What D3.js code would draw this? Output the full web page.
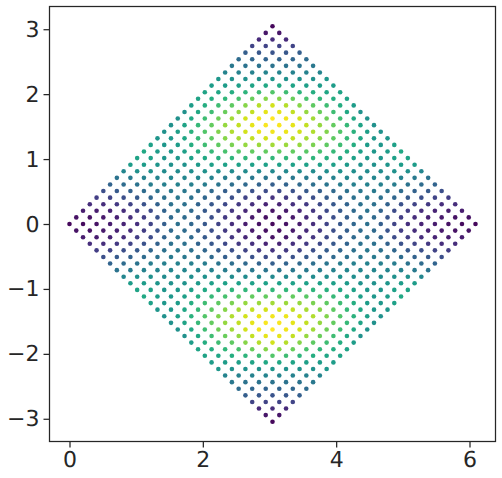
<!DOCTYPE html>
<html>
<head>
<meta charset="utf-8">
<script src="https://cdn.jsdelivr.net/npm/d3@7"></script>
<style>
html,body{margin:0;padding:0;background:#fff;}
svg{display:block;}
text{text-rendering:geometricPrecision;}
</style>
</head>
<body>
<svg id="chart" width="502" height="478"></svg>
<script>
// Colour values. One row per |y| level (0 .. 30 grid steps),
// listed from the left edge of the diamond to its vertical centre line.
const rowValues = [
  [.02,.03,.05,.08,.10,.14,.20,.30,.37,.33,.27,.20,.13,.08,.05,.02],
  [.05,.05,.07,.09,.13,.18,.26,.34,.35,.30,.24,.17,.12,.07,.04],
  [.08,.08,.10,.13,.18,.23,.32,.38,.34,.28,.22,.16,.11,.07,.05],
  [.13,.13,.17,.20,.25,.31,.37,.37,.32,.27,.22,.17,.14,.10],
  [.18,.20,.24,.28,.33,.37,.40,.37,.33,.29,.24,.20,.17,.15],
  [.24,.28,.31,.35,.38,.41,.40,.37,.34,.30,.28,.25,.23],
  [.32,.35,.38,.42,.43,.44,.43,.42,.39,.36,.34,.32,.30],
  [.38,.41,.44,.45,.46,.46,.46,.44,.42,.41,.40,.39],
  [.46,.50,.50,.48,.48,.49,.50,.49,.48,.48,.47,.47],
  [.55,.55,.52,.50,.51,.54,.56,.57,.57,.57,.57],
  [.58,.57,.52,.53,.57,.60,.63,.65,.66,.66,.66],
  [.60,.55,.53,.56,.62,.67,.71,.74,.76,.76],
  [.57,.53,.55,.62,.69,.75,.80,.84,.85,.86],
  [.52,.53,.59,.67,.75,.82,.87,.91,.93],
  [.50,.56,.64,.73,.81,.88,.93,.97,.98],
  [.50,.58,.67,.76,.84,.91,.96,.99],
  [.50,.60,.69,.78,.86,.93,.98,1.0],
  [.50,.60,.69,.77,.84,.91,.96],
  [.55,.62,.69,.75,.82,.89,.93],
  [.58,.62,.66,.71,.77,.82],
  [.58,.59,.62,.65,.69,.73],
  [.55,.55,.56,.58,.60],
  [.53,.50,.50,.50,.52],
  [.45,.44,.44,.45],
  [.40,.38,.38,.38],
  [.35,.33,.32],
  [.30,.27,.26],
  [.20,.20],
  [.12,.13],
  [.06],
  [.02]
];
const gridStep = 0.1015;
const xTicks = [0, 2, 4, 6];
const yTicks = [-3, -2, -1, 0, 1, 2, 3];
const xDomain = [-0.3, 6.39];
const yDomain = [-3.35, 3.35];

const svg = d3.select("#chart");
const plot = {left: 49.5, right: 495.5, top: 6.5, bottom: 441.5};
const x = d3.scaleLinear().domain(xDomain).range([plot.left, plot.right]);
const y = d3.scaleLinear().domain(yDomain).range([plot.bottom, plot.top]);
const color = d3.scaleSequential(d3.interpolateViridis).domain([0, 1]);

const points = [];
rowValues.forEach((half, k) => {
  const even = k % 2 === 0;
  const mirrored = half.slice(0, even ? half.length - 1 : half.length).reverse();
  const full = half.concat(mirrored);
  full.forEach((v, n) => {
    const m = k + 2 * n;
    points.push({x: m * gridStep, y: k * gridStep, v});
    if (k > 0) points.push({x: m * gridStep, y: -k * gridStep, v});
  });
});

svg.append("g").selectAll("circle").data(points).join("circle")
  .attr("cx", d => x(d.x))
  .attr("cy", d => y(d.y))
  .attr("r", 2.3)
  .attr("fill", d => color(d.v));

const fmt = d => String(d).replace("-", "\u2212");
const ink = "#262626";
const xAxis = d3.axisBottom(x).tickValues(xTicks).tickSize(6).tickPadding(4).tickFormat(fmt);
const yAxis = d3.axisLeft(y).tickValues(yTicks).tickSize(6).tickPadding(4).tickFormat(fmt);

const gx = svg.append("g").attr("transform", `translate(0,${plot.bottom})`).call(xAxis);
const gy = svg.append("g").attr("transform", `translate(${plot.left},0)`).call(yAxis);
[gx, gy].forEach(g => {
  g.select(".domain").remove();
  g.selectAll(".tick line").attr("stroke", ink).attr("stroke-width", 1.25);
  g.selectAll(".tick text").attr("fill", ink)
    .style("font-family", "'DejaVu Sans', sans-serif").style("font-size", "22px");
});

svg.append("rect")
  .attr("x", plot.left).attr("y", plot.top)
  .attr("width", plot.right - plot.left).attr("height", plot.bottom - plot.top)
  .attr("fill", "none").attr("stroke", ink).attr("stroke-width", 1.25);
</script>
</body>
</html>
